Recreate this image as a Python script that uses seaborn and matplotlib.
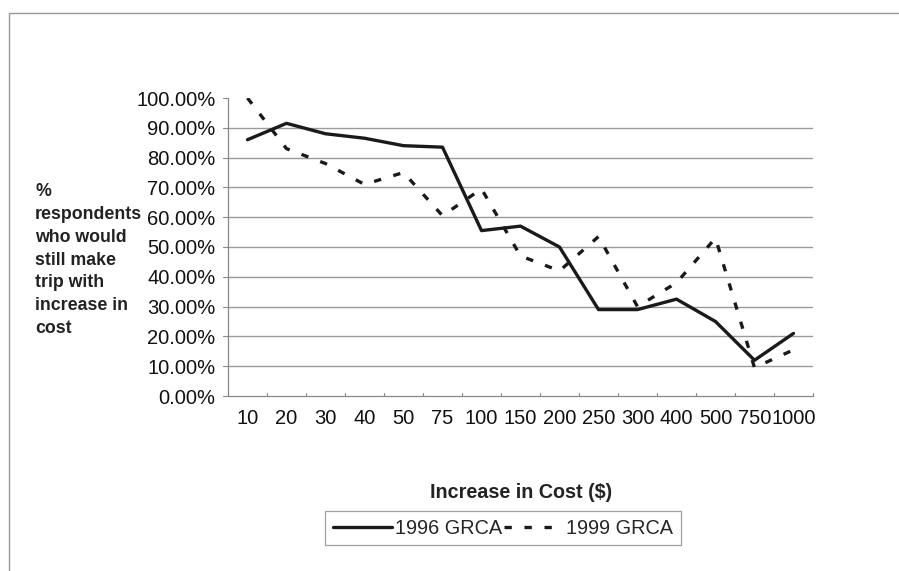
import matplotlib
matplotlib.use("Agg")
import matplotlib.pyplot as plt
import seaborn as sns
import pandas as pd
from matplotlib.ticker import PercentFormatter, MultipleLocator
from matplotlib.lines import Line2D

costs = ["10", "20", "30", "40", "50", "75", "100", "150", "200", "250",
         "300", "400", "500", "750", "1000"]
grca_1996 = [86.0, 91.5, 88.0, 86.5, 84.0, 83.5, 55.5, 57.0, 50.0, 29.0,
             29.0, 32.5, 25.0, 12.0, 21.0]
grca_1999 = [100.0, 83.0, 78.0, 71.0, 75.0, 60.5, 69.5, 47.0, 42.0, 53.5,
             30.0, 38.0, 53.0, 9.5, 15.5]
series_names = ["1996 GRCA", "1999 GRCA"]

df = pd.concat([
    pd.DataFrame({"cost": costs, "pct": grca_1996, "survey": series_names[0]}),
    pd.DataFrame({"cost": costs, "pct": grca_1999, "survey": series_names[1]}),
])

sns.set_theme(style="white")
plt.rcParams["font.family"] = ["Liberation Sans", "DejaVu Sans"]

W, H = 899, 571
fig = plt.figure(figsize=(W / 100, H / 100), dpi=100)
ax = fig.add_axes([228 / W, 1 - 396 / H, (813 - 228) / W, (396 - 98) / H])

dash_style = (0, (2.2, 3.8))
sns.lineplot(data=df, x="cost", y="pct", hue="survey", style="survey",
             palette={series_names[0]: "#1a1a1a", series_names[1]: "#1a1a1a"},
             dashes={series_names[0]: "", series_names[1]: (2.2, 3.8)},
             linewidth=2.4, ax=ax, legend=False, sort=False)

ax.set_xlim(-0.5, len(costs) - 0.5)
ax.set_ylim(0, 100)
ax.yaxis.set_major_locator(MultipleLocator(10))
ax.yaxis.set_major_formatter(PercentFormatter(decimals=2))
ax.set_xticks(range(len(costs)))
ax.set_xticklabels(costs)
ax.tick_params(axis="both", labelsize=14.5, colors="#111111", length=0, pad=9)
ax.tick_params(axis="x", pad=9)
for i in range(len(costs) + 1):
    ax.plot([i - 0.5, i - 0.5], [0, 1.0], color="#888888", lw=0.8, clip_on=False)
for v in range(0, 101, 10):
    ax.plot([-0.5 - 0.12, -0.5], [v, v], color="#888888", lw=0.8, clip_on=False)
for v in range(10, 100, 10):
    ax.axhline(v, color="#9a9a9a", lw=1.0, zorder=0)

for side in ["top", "right"]:
    ax.spines[side].set_visible(False)
ax.spines["left"].set_color("#888888")
ax.spines["bottom"].set_color("#888888")
ax.spines["left"].set_linewidth(0.9)
ax.spines["bottom"].set_linewidth(0.9)
ax.set_xlabel("")
ax.set_ylabel("")

fig.text(35 / W, 1 - 183 / H,
         "%\nrespondents\nwho would\nstill make\ntrip with\nincrease in\ncost",
         fontsize=12.8, fontweight="bold", color="#222222", ha="left", va="top",
         linespacing=1.45)
fig.text(521 / W, 1 - 492 / H, "Increase in Cost ($)", fontsize=14.2,
         fontweight="bold", color="#222222", ha="center", va="center")

handles = [Line2D([], [], color="#1a1a1a", lw=2.4),
           Line2D([], [], color="#1a1a1a", lw=2.4, linestyle=dash_style)]
leg = fig.legend(handles, series_names, loc="center",
                 bbox_to_anchor=(503 / W, 1 - 528 / H), ncol=2, frameon=True,
                 fontsize=14.3, handlelength=3.0, handletextpad=0.15,
                 columnspacing=0.05, borderpad=0.4, fancybox=False)
leg.get_frame().set_edgecolor("#888888")
leg.get_frame().set_linewidth(0.9)

fig.add_artist(Line2D([9 / W, 1], [1 - 13 / H, 1 - 13 / H], color="#999999", lw=1.0))
fig.add_artist(Line2D([9 / W, 9 / W], [0, 1 - 13 / H], color="#999999", lw=1.0))

fig.savefig("out.png", dpi=100)
